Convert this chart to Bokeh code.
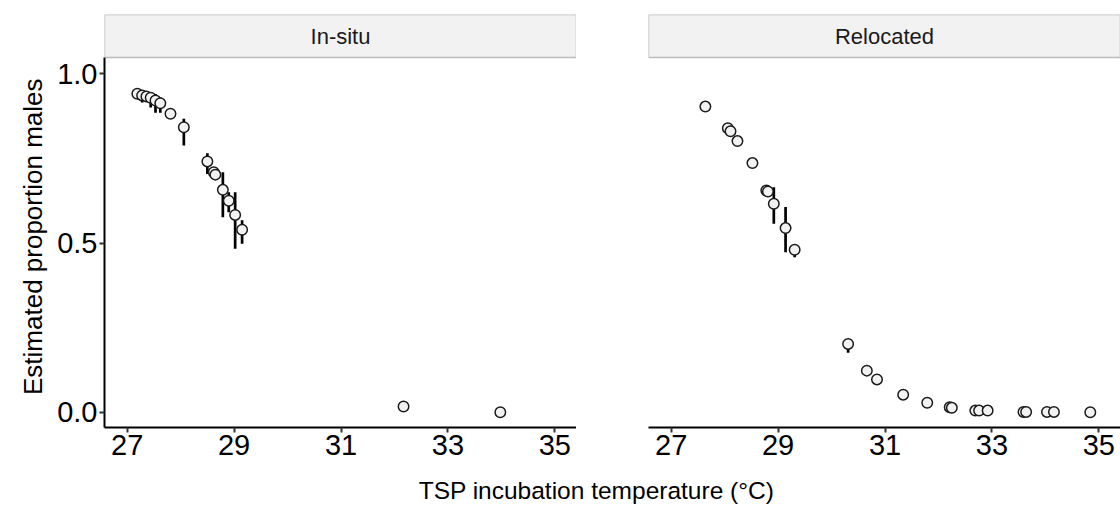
import math
from bokeh.plotting import figure
from bokeh.models import FixedTicker, BoxAnnotation, Label, Range1d, PrintfTickFormatter, ColumnDataSource
from bokeh.layouts import column, row
from bokeh.embed import file_html
from bokeh.resources import INLINE

# ---------------- data ----------------
panels = ["In-situ", "Relocated"]

insitu_temp = [27.19, 27.28, 27.36, 27.44, 27.53, 27.62, 27.81, 28.06, 28.50, 28.62, 28.65,
               28.79, 28.90, 29.02, 29.15, 32.17, 33.98]
insitu_prop = [0.941, 0.936, 0.933, 0.929, 0.921, 0.913, 0.882, 0.842, 0.741, 0.709, 0.702,
               0.657, 0.625, 0.583, 0.539, 0.017, 0.000]
insitu_low = [0.941, 0.915, 0.933, 0.900, 0.885, 0.885, 0.882, 0.788, 0.704, 0.709, 0.702,
              0.576, 0.591, 0.483, 0.498, 0.017, 0.000]
insitu_high = [0.941, 0.950, 0.933, 0.945, 0.940, 0.930, 0.882, 0.867, 0.765, 0.709, 0.702,
               0.709, 0.650, 0.650, 0.567, 0.017, 0.000]

reloc_temp = [27.64, 28.06, 28.11, 28.24, 28.52, 28.78, 28.81, 28.92, 29.14, 29.31, 30.31,
              30.66, 30.85, 31.34, 31.79, 32.21, 32.25, 32.69, 32.76, 32.92, 33.59, 33.64,
              34.03, 34.16, 34.84]
reloc_prop = [0.903, 0.839, 0.830, 0.801, 0.736, 0.655, 0.652, 0.616, 0.544, 0.480, 0.202,
              0.123, 0.097, 0.052, 0.028, 0.015, 0.013, 0.005, 0.005, 0.005, 0.001, 0.001,
              0.001, 0.001, 0.000]
reloc_low = [0.903, 0.839, 0.830, 0.801, 0.736, 0.655, 0.640, 0.557, 0.473, 0.458, 0.176,
             0.123, 0.097, 0.052, 0.028, 0.015, 0.013, 0.005, 0.005, 0.005, 0.001, 0.001,
             0.001, 0.001, 0.000]
reloc_high = [0.903, 0.839, 0.830, 0.801, 0.736, 0.655, 0.665, 0.665, 0.606, 0.490, 0.215,
              0.123, 0.097, 0.052, 0.028, 0.015, 0.013, 0.005, 0.005, 0.005, 0.001, 0.001,
              0.001, 0.001, 0.000]

x_ticks = [27, 29, 31, 33, 35]
y_ticks = [0.0, 0.5, 1.0]
x_title = "TSP incubation temperature (°C)"
y_title = "Estimated proportion males"

# ---------------- layout constants ----------------
FONT = "Liberation Sans"
XR = (26.576, 35.405)
Y0, Y1 = -0.045, 1.048
FRAME_W = 472
PANEL_H = 370
STRIP_H = 43
FRAME_H = PANEL_H + STRIP_H
TOP = 14
BOTTOM = 45
FIG_H = TOP + FRAME_H + BOTTOM
Y_END = Y1 + STRIP_H * (Y1 - Y0) / PANEL_H
TITLE_W = 50


def style_axis(a):
    a.minor_tick_line_color = None
    a.axis_line_width = 2
    a.axis_line_color = "black"
    a.major_tick_line_width = 2
    a.major_tick_line_color = "#333333"
    a.major_tick_in = 0
    a.major_tick_out = 5
    a.major_label_text_font = FONT
    a.major_label_text_font_size = "29px"
    a.major_label_text_color = "black"
    a.major_label_standoff = 2


def make_panel(title, xs, ys, lo, hi, left_border, show_y):
    p = figure(frame_width=FRAME_W, frame_height=FRAME_H,
               min_border_left=left_border, min_border_right=0,
               min_border_top=TOP, min_border_bottom=BOTTOM,
               x_range=Range1d(*XR), y_range=Range1d(Y0, Y_END),
               toolbar_location=None, output_backend="svg")
    p.outline_line_color = None
    p.grid.visible = False
    p.background_fill_color = "white"
    p.border_fill_color = "white"

    ax = p.xaxis[0]
    ax.ticker = FixedTicker(ticks=x_ticks)
    style_axis(ax)

    ay = p.yaxis[0]
    if show_y:
        ay.ticker = FixedTicker(ticks=y_ticks)
        ay.formatter = PrintfTickFormatter(format="%.1f")
        ay.bounds = (Y0, Y1)
        style_axis(ay)
    else:
        ay.visible = False

    strip = BoxAnnotation(left=XR[0], right=XR[1], bottom=Y1, top=Y_END,
                          fill_color="#f2f2f2", fill_alpha=1.0,
                          line_color="#333333", line_width=1.5)
    p.add_layout(strip)
    p.add_layout(Label(x=(XR[0] + XR[1]) / 2, y=(Y1 + Y_END) / 2, text=title,
                       text_align="center", text_baseline="middle",
                       text_font=FONT, text_font_size="22px", text_color="#1a1a1a"))

    src = ColumnDataSource(dict(x=xs, y=ys, lo=lo, hi=hi))
    p.segment(x0="x", y0="lo", x1="x", y1="hi", source=src,
              line_color="black", line_width=2.7)
    p.scatter(x="x", y="y", source=src, size=10.5, marker="circle",
              fill_color="#f2f2f2", line_color="#1a1a1a", line_width=1.5)
    return p


# y-axis title on a separate narrow canvas so it is centred on the panel (not the strip)
p0 = figure(width=TITLE_W, height=FIG_H, x_range=Range1d(0, TITLE_W), y_range=Range1d(0, FIG_H),
            x_axis_type=None, y_axis_type=None, min_border=0,
            toolbar_location=None, output_backend="svg")
p0.outline_line_color = None
p0.grid.visible = False
p0.add_layout(Label(x=32, y=FIG_H - 254, text=y_title, angle=math.pi / 2,
                    text_align="center", text_baseline="middle",
                    text_font=FONT, text_font_size="26px", text_color="black"))

p1 = make_panel(panels[0], insitu_temp, insitu_prop, insitu_low, insitu_high, 104 - TITLE_W, True)
p2 = make_panel(panels[1], reloc_temp, reloc_prop, reloc_low, reloc_high, 72, False)

p3 = figure(width=1120, height=506 - FIG_H, x_range=Range1d(0, 1120), y_range=Range1d(0, 506 - FIG_H),
            x_axis_type=None, y_axis_type=None, min_border=0,
            toolbar_location=None, output_backend="svg")
p3.outline_line_color = None
p3.grid.visible = False
p3.add_layout(Label(x=596, y=506 - FIG_H - 18, text=x_title, text_align="center", text_baseline="middle",
                    text_font=FONT, text_font_size="24.5px", text_color="black"))

layout = column(row(p0, p1, p2), p3)
open("out.html", "w").write(file_html(layout, INLINE))
